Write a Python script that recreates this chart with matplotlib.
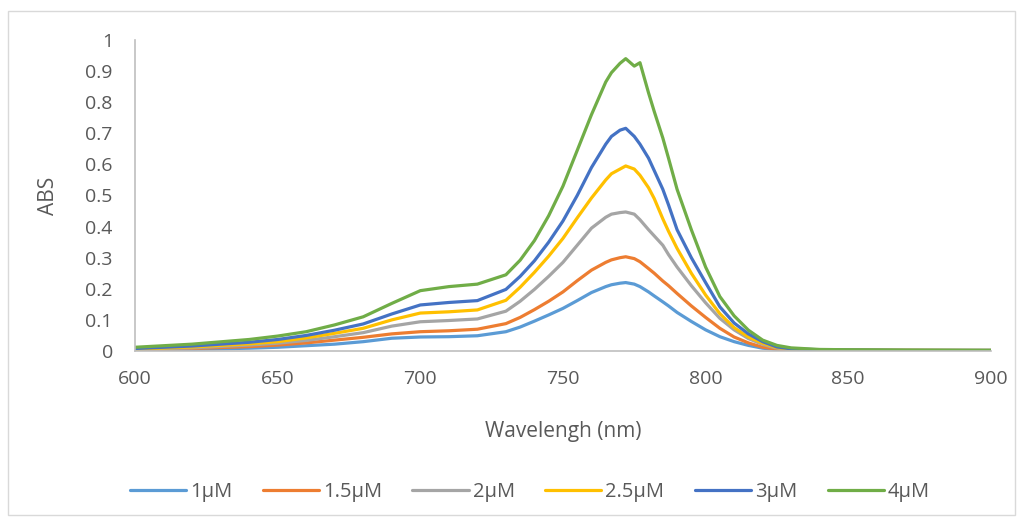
import matplotlib
matplotlib.use('Agg')
import matplotlib.pyplot as plt
from matplotlib.patches import Rectangle

plt.rcParams['font.family'] = ['Open Sans', 'DejaVu Sans']

# wavelength grid (nm) and absorbance
wl = [600, 620, 640, 650, 660, 670, 680, 690, 700, 710, 720, 730, 735, 740, 745,
      750, 755, 760, 765, 767, 770, 772, 775, 777, 780, 782, 785, 787, 790, 795,
      800, 805, 810, 815, 820, 825, 830, 840, 850, 870, 900]

abs_1 = [0.002, 0.005, 0.009, 0.012, 0.017, 0.022, 0.030, 0.041, 0.045, 0.046, 0.049,
         0.062, 0.077, 0.096, 0.116, 0.137, 0.162, 0.188, 0.207, 0.213, 0.218, 0.220,
         0.215, 0.207, 0.190, 0.177, 0.158, 0.145, 0.124, 0.095, 0.068, 0.046, 0.030,
         0.018, 0.009, 0.005, 0.003, 0.002, 0.002, 0.001, 0.001]
abs_15 = [0.004, 0.008, 0.014, 0.019, 0.026, 0.035, 0.044, 0.055, 0.062, 0.065, 0.070,
          0.088, 0.108, 0.133, 0.160, 0.190, 0.226, 0.260, 0.285, 0.293, 0.300, 0.303,
          0.297, 0.287, 0.265, 0.250, 0.225, 0.210, 0.185, 0.145, 0.108, 0.073, 0.045,
          0.026, 0.012, 0.006, 0.004, 0.003, 0.002, 0.002, 0.001]
abs_2 = [0.005, 0.010, 0.019, 0.025, 0.034, 0.046, 0.059, 0.080, 0.094, 0.098, 0.103,
         0.128, 0.160, 0.198, 0.240, 0.285, 0.340, 0.395, 0.430, 0.440, 0.445, 0.447,
         0.440, 0.422, 0.390, 0.370, 0.340, 0.310, 0.270, 0.210, 0.155, 0.105, 0.068,
         0.040, 0.021, 0.009, 0.005, 0.003, 0.003, 0.002, 0.002]
abs_25 = [0.006, 0.013, 0.023, 0.030, 0.042, 0.057, 0.073, 0.100, 0.122, 0.126, 0.132,
          0.163, 0.205, 0.253, 0.305, 0.362, 0.428, 0.492, 0.550, 0.570, 0.585, 0.595,
          0.585, 0.565, 0.525, 0.490, 0.425, 0.385, 0.330, 0.250, 0.180, 0.120, 0.075,
          0.045, 0.025, 0.011, 0.006, 0.003, 0.003, 0.002, 0.002]
abs_3 = [0.008, 0.016, 0.028, 0.037, 0.050, 0.067, 0.087, 0.119, 0.148, 0.156, 0.162,
         0.198, 0.240, 0.290, 0.350, 0.418, 0.500, 0.590, 0.665, 0.690, 0.710, 0.716,
         0.690, 0.665, 0.620, 0.580, 0.520, 0.470, 0.390, 0.300, 0.220, 0.142, 0.090,
         0.055, 0.030, 0.013, 0.007, 0.004, 0.003, 0.002, 0.002]
abs_4 = [0.012, 0.022, 0.037, 0.048, 0.062, 0.084, 0.110, 0.153, 0.194, 0.207, 0.215,
         0.245, 0.292, 0.355, 0.435, 0.530, 0.645, 0.760, 0.865, 0.895, 0.925, 0.940,
         0.916, 0.927, 0.830, 0.770, 0.685, 0.620, 0.520, 0.390, 0.270, 0.175, 0.113,
         0.067, 0.035, 0.018, 0.010, 0.005, 0.004, 0.003, 0.002]

labels = ['1µM', '1.5µM', '2µM', '2.5µM', '3µM', '4µM']
colors = ['#5B9BD5', '#ED7D31', '#A5A5A5', '#FFC000', '#4472C4', '#70AD47']
series = [abs_1, abs_15, abs_2, abs_25, abs_3, abs_4]

fig = plt.figure(figsize=(10.23, 5.22), dpi=100)
ax = fig.add_axes([0.132, 0.3276, 0.8366, 0.5958])

for s, lab, c in zip(series, labels, colors):
    ax.plot(wl, s, color=c, lw=2.3, label=lab, solid_capstyle='round',
            solid_joinstyle='round')

ax.set_xlim(600, 900)
ax.set_ylim(0, 1)
ax.set_xticks([600, 650, 700, 750, 800, 850, 900])
ax.set_yticks([0, 0.1, 0.2, 0.3, 0.4, 0.5, 0.6, 0.7, 0.8, 0.9, 1])
ax.set_yticklabels(['0', '0.1', '0.2', '0.3', '0.4', '0.5', '0.6', '0.7', '0.8', '0.9', '1'])

ax.spines['top'].set_visible(False)
ax.spines['right'].set_visible(False)
ax.spines['left'].set_color('#BFBFBF')
ax.spines['bottom'].set_color('#BFBFBF')
ax.spines['left'].set_linewidth(1.2)
ax.spines['bottom'].set_linewidth(1.2)
ax.tick_params(axis='x', length=0, pad=14, labelsize=14, labelcolor='#595959')
ax.tick_params(axis='y', length=0, pad=16, labelsize=14, labelcolor='#595959')

ax.set_xlabel('Wavelengh (nm)', fontsize=15, color='#595959')
ax.set_ylabel('ABS', fontsize=15, color='#595959')
ax.xaxis.set_label_coords(0.5, -0.225)
ax.yaxis.set_label_coords(-0.089, 0.5)

fig.legend(loc='center', bbox_to_anchor=(0.518, 0.0575), ncol=6, frameon=False,
           fontsize=14.5, labelcolor='#595959', handlelength=2.8, handletextpad=0.2,
           columnspacing=1.5)

fig.add_artist(Rectangle((8 / 1023, 7 / 522), 1007 / 1023, 504 / 522,
                         transform=fig.transFigure, fill=False,
                         edgecolor='#D9D9D9', lw=1))

plt.savefig('out.png', dpi=100)
